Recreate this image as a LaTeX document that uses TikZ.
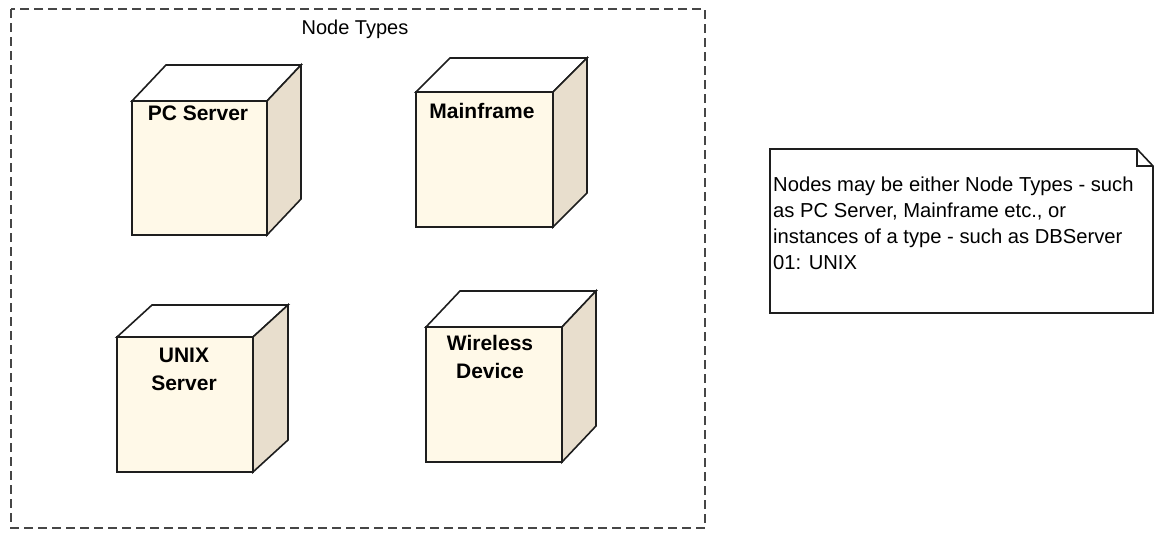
\documentclass[tikz,border=0pt]{standalone}
\usepackage{fontspec}
\setmainfont{Liberation Sans}
\definecolor{frontfill}{RGB}{255,249,232}
\definecolor{sidefill}{RGB}{232,222,205}
\definecolor{framegray}{RGB}{70,70,70}
\definecolor{edgegray}{RGB}{30,30,30}

% A deployment node drawn as a cube: name, front x1, y1, x2, y2, depth dx, dy
\newcommand\drawcube[7]{%
  \coordinate (#1-fa) at (#2,#3);
  \coordinate (#1-fb) at (#4,#3);
  \coordinate (#1-fc) at (#4,#5);
  \coordinate (#1-fd) at (#2,#5);
  \coordinate (#1-ba) at ([shift={(#6,-#7)}]#1-fa);
  \coordinate (#1-bb) at ([shift={(#6,-#7)}]#1-fb);
  \coordinate (#1-bc) at ([shift={(#6,-#7)}]#1-fc);
  \filldraw[cubeedge, fill=white] (#1-fa) -- (#1-ba) -- (#1-bb) -- (#1-fb) -- cycle;
  \filldraw[cubeedge, fill=sidefill] (#1-fb) -- (#1-bb) -- (#1-bc) -- (#1-fc) -- cycle;
  \filldraw[cubeedge, fill=frontfill] (#1-fa) rectangle (#1-fc);
}

\begin{document}
\begin{tikzpicture}[x=1pt, y=-1pt,
  cubeedge/.style={draw=edgegray, line width=1.6pt, line join=miter},
  cubelabel/.style={anchor=north, inner sep=0pt, align=center,
    font=\fontsize{21}{28}\selectfont\bfseries},
  frame/.style={draw=framegray, line width=1.4pt, dash pattern=on 9pt off 5pt},
  notebox/.style={draw=edgegray, line width=1.6pt, fill=white},
  notetext/.style={anchor=north west, inner sep=0pt, align=left,
    font=\fontsize{20.2}{26}\selectfont}]

\useasboundingbox (0,0) rectangle (1157,546);

% package frame
\draw[frame] (11,9) rectangle (705,528);
\node[font=\fontsize{20}{24}\selectfont, inner sep=0pt] (title) at (355,29) {Node Types};

% node types
\drawcube{pc}{132}{101}{267}{235}{34}{36}
\node[cubelabel] (pclabel) at (198,106) {PC Server};

\drawcube{mf}{416}{92}{553}{227}{34}{34}
\node[cubelabel] (mflabel) at (482,103) {Mainframe};

\drawcube{ux}{117}{337}{253}{472}{35}{32}
\node[cubelabel] (uxlabel) at (184,348) {UNIX\\Server};

\drawcube{wd}{426}{327}{562}{462}{34}{36}
\node[cubelabel] (wdlabel) at (490,335) {Wireless\\Device};

% note with folded corner
\coordinate (n1) at (770,149);
\coordinate (n2) at (1137,149);
\coordinate (n3) at (1153,166);
\coordinate (n4) at (1153,313);
\coordinate (n5) at (770,313);
\coordinate (nf) at (1137,166);
\filldraw[notebox] (n1) -- (n2) -- (n3) -- (n4) -- (n5) -- cycle;
\draw[draw=edgegray, line width=1.6pt] (n2) -- (nf) -- (n3);
\node[notetext] (notetxt) at (773,177) {Nodes may be either Node Types - such\\as PC Server, Mainframe etc., or\\instances of a type - such as DBServer\\01: UNIX};

\end{tikzpicture}
\end{document}
